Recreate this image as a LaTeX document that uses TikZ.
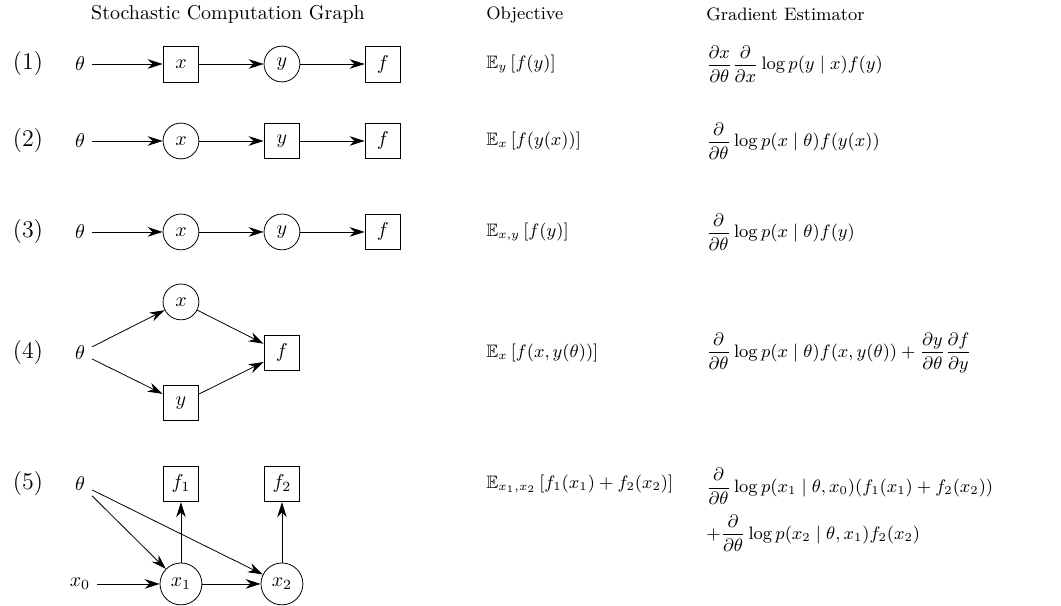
\documentclass[tikz,border=0pt]{standalone}
\usepackage{amsmath}
\usepackage{amsfonts}
\usepackage{tikz}
\usetikzlibrary{positioning,arrows.meta}

\tikzset{
  det/.style={draw,rectangle,minimum size=0.63cm},
  stoch/.style={draw,circle,minimum size=0.63cm},
  link/.style={-{Stealth[length=7.5pt,width=4.8pt]}},
  rowlabel/.style={font=\large},
  formula/.style={anchor=west,font=\small},
}

\begin{document}
\begin{tikzpicture}
  \useasboundingbox (0,0) rectangle (18.65,-10.65);
  % headers
  \node (hgraph) at (4.007,-0.255) {Stochastic Computation Graph};
  \node[anchor=west,font=\small] (hobj) at (8.424,-0.255) {Objective};
  \node[anchor=west,font=\small] (hgrad) at (12.29,-0.255) {Gradient Estimator};

  % row numbers
  \node[rowlabel] (n1) at (0.492,-1.125) {(1)};
  \node[rowlabel] (n2) at (0.492,-2.478) {(2)};
  \node[rowlabel] (n3) at (0.492,-4.077) {(3)};
  \node[rowlabel] (n4) at (0.492,-6.204) {(4)};
  \node[rowlabel] (n5) at (0.492,-8.506) {(5)};

  % (1)
  \node (ta) at (1.406,-1.125) {$\theta$};
  \node[det] (xa) at (3.181,-1.125) {$x$};
  \node[stoch] (ya) at (4.956,-1.125) {$y$};
  \node[det] (fa) at (6.731,-1.125) {$f$};
  \draw[link] (ta) -- (xa);
  \draw[link] (xa) -- (ya);
  \draw[link] (ya) -- (fa);

  % (2)
  \node (tb) at (1.406,-2.478) {$\theta$};
  \node[stoch] (xb) at (3.181,-2.478) {$x$};
  \node[det] (yb) at (4.956,-2.478) {$y$};
  \node[det] (fb) at (6.731,-2.478) {$f$};
  \draw[link] (tb) -- (xb);
  \draw[link] (xb) -- (yb);
  \draw[link] (yb) -- (fb);

  % (3)
  \node (tc) at (1.406,-4.077) {$\theta$};
  \node[stoch] (xc) at (3.181,-4.077) {$x$};
  \node[stoch] (yc) at (4.956,-4.077) {$y$};
  \node[det] (fc) at (6.731,-4.077) {$f$};
  \draw[link] (tc) -- (xc);
  \draw[link] (xc) -- (yc);
  \draw[link] (yc) -- (fc);

  % (4)
  \node (td) at (1.406,-6.204) {$\theta$};
  \node[stoch] (xd) at (3.181,-5.307) {$x$};
  \node[det] (yd) at (3.181,-7.083) {$y$};
  \node[det] (fd) at (4.956,-6.204) {$f$};
  \draw[link] (td) -- (xd);
  \draw[link] (td) -- (yd);
  \draw[link] (xd) -- (fd);
  \draw[link] (yd) -- (fd);

  % (5)
  \node (te) at (1.406,-8.506) {$\theta$};
  \node (x0e) at (1.406,-10.264) {$x_0$};
  \node[stoch] (x1e) at (3.181,-10.264) {$x_1$};
  \node[stoch] (x2e) at (4.956,-10.264) {$x_2$};
  \node[det] (f1e) at (3.181,-8.506) {$f_1$};
  \node[det] (f2e) at (4.956,-8.506) {$f_2$};
  \draw[link] (te) -- (x1e);
  \draw[link] (te) -- (x2e);
  \draw[link] (x0e) -- (x1e);
  \draw[link] (x1e) -- (x2e);
  \draw[link] (x1e) -- (f1e);
  \draw[link] (x2e) -- (f2e);

  % objectives
  \node[formula] (oa) at (8.424,-1.125) {$\mathbb{E}_y\left[f(y)\right]$};
  \node[formula] (ob) at (8.424,-2.478) {$\mathbb{E}_x\left[f(y(x))\right]$};
  \node[formula] (oc) at (8.424,-4.077) {$\mathbb{E}_{x,y}\left[f(y)\right]$};
  \node[formula] (od) at (8.424,-6.204) {$\mathbb{E}_x\left[f(x,y(\theta))\right]$};
  \node[formula] (oe) at (8.424,-8.506) {$\mathbb{E}_{x_1,x_2}\left[f_1(x_1)+f_2(x_2)\right]$};

  % gradient estimators
  \node[formula] (ga) at (12.29,-1.125) {$\displaystyle\frac{\partial x}{\partial\theta}\frac{\partial}{\partial x}\log p(y\mid x)f(y)$};
  \node[formula] (gb) at (12.29,-2.478) {$\displaystyle\frac{\partial}{\partial\theta}\log p(x\mid\theta)f(y(x))$};
  \node[formula] (gc) at (12.29,-4.077) {$\displaystyle\frac{\partial}{\partial\theta}\log p(x\mid\theta)f(y)$};
  \node[formula] (gd) at (12.29,-6.204) {$\displaystyle\frac{\partial}{\partial\theta}\log p(x\mid\theta)f(x,y(\theta))+\frac{\partial y}{\partial\theta}\frac{\partial f}{\partial y}$};
  \node[formula] (ge) at (12.29,-8.963) {$\begin{array}{@{}l@{}}
    \displaystyle\frac{\partial}{\partial\theta}\log p(x_1\mid\theta,x_0)(f_1(x_1)+f_2(x_2))\\[8pt]
    \displaystyle+\frac{\partial}{\partial\theta}\log p(x_2\mid\theta,x_1)f_2(x_2)
  \end{array}$};
\end{tikzpicture}
\end{document}
